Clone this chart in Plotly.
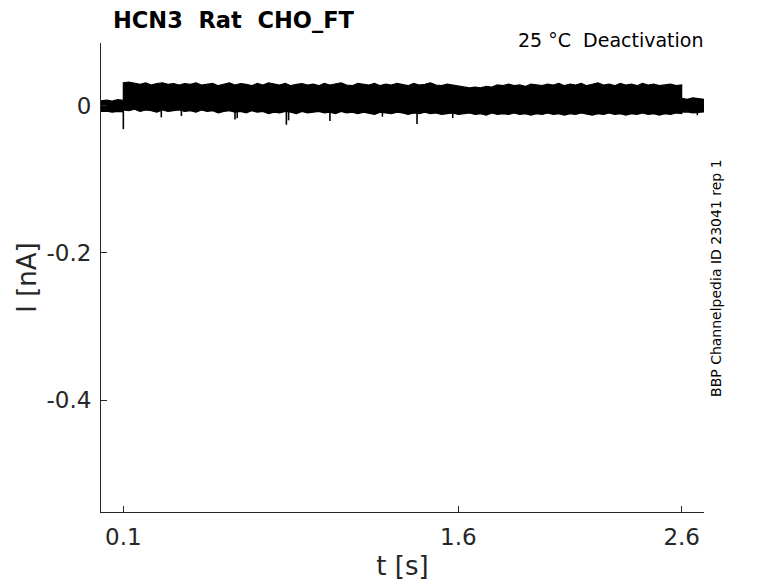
import plotly.graph_objects as go

# envelope of the overlaid sweeps (t in s, I in nA)
pre_t = [0.0, 0.025, 0.05, 0.075, 0.1]
pre_upper = [0.0065, 0.0075, 0.006, 0.008, 0.007]
pre_lower = [-0.008, -0.0075, -0.009, -0.008, -0.0085]

band_t = [round(0.1 + 0.025 * k, 3) for k in range(101)]  # 0.1 .. 2.6 s
band_upper = [
    0.031, 0.032, 0.030, 0.029, 0.031, 0.028, 0.030, 0.031, 0.029, 0.030,
    0.028, 0.030, 0.029, 0.031, 0.028, 0.029, 0.030, 0.027, 0.029, 0.031,
    0.028, 0.030, 0.029, 0.027, 0.030, 0.028, 0.031, 0.029, 0.028, 0.030,
    0.027, 0.029, 0.030, 0.028, 0.029, 0.027, 0.030, 0.028, 0.029, 0.031,
    0.028, 0.027, 0.030, 0.029, 0.028, 0.030, 0.027, 0.029, 0.028, 0.030,
    0.029, 0.027, 0.030, 0.028, 0.029, 0.031, 0.028, 0.027, 0.029, 0.028,
    0.026, 0.025, 0.024, 0.025, 0.024, 0.026, 0.025, 0.028, 0.027, 0.029,
    0.027, 0.028, 0.026, 0.029, 0.028, 0.027, 0.029, 0.028, 0.030, 0.027,
    0.029, 0.028, 0.030, 0.027, 0.029, 0.031, 0.028, 0.029, 0.027, 0.030,
    0.028, 0.029, 0.027, 0.030, 0.028, 0.029, 0.027, 0.028, 0.029, 0.027,
    0.028]
band_lower = [
    -0.006, -0.007, -0.005, -0.008, -0.006, -0.007, -0.009, -0.006, -0.008, -0.007,
    -0.006, -0.008, -0.007, -0.009, -0.006, -0.008, -0.007, -0.010, -0.008, -0.007,
    -0.009, -0.008, -0.010, -0.007, -0.009, -0.008, -0.011, -0.009, -0.010, -0.008,
    -0.009, -0.011, -0.008, -0.010, -0.009, -0.008, -0.010, -0.009, -0.011, -0.008,
    -0.010, -0.009, -0.011, -0.009, -0.010, -0.012, -0.009, -0.010, -0.011, -0.009,
    -0.010, -0.012, -0.010, -0.011, -0.009, -0.011, -0.010, -0.012, -0.011, -0.010,
    -0.012, -0.011, -0.010, -0.012, -0.011, -0.013, -0.010, -0.012, -0.011, -0.012,
    -0.010, -0.012, -0.011, -0.013, -0.011, -0.012, -0.010, -0.012, -0.011, -0.013,
    -0.011, -0.012, -0.010, -0.012, -0.013, -0.011, -0.012, -0.010, -0.012, -0.011,
    -0.013, -0.011, -0.012, -0.010, -0.012, -0.011, -0.013, -0.011, -0.012, -0.010,
    -0.011]

post_t = [2.6, 2.625, 2.65, 2.675, 2.7]
post_upper = [0.010, 0.0085, 0.0105, 0.009, 0.0085]
post_lower = [-0.009, -0.0085, -0.010, -0.009, -0.0085]

# narrow downward transients
spike_t = [0.1, 0.27, 0.36, 0.6, 0.61, 0.83, 0.84, 1.025, 1.26, 1.415, 1.575, 2.67]
spike_i = [-0.032, -0.016, -0.014, -0.019, -0.017, -0.026, -0.020, -0.021, -0.015, -0.025, -0.017, -0.013]

x_ticks = [0.1, 1.6, 2.6]
x_ticktext = ["0.1", "1.6", "2.6"]
y_ticks = [0, -0.2, -0.4]
y_ticktext = ["0", "-0.2", "-0.4"]

axis_col = "#262626"

env_t = pre_t + band_t + post_t
env_up = pre_upper + band_upper + post_upper
env_lo = pre_lower + band_lower + post_lower

fig = go.Figure()
fig.add_trace(go.Scatter(
    x=env_t + env_t[::-1],
    y=env_up + env_lo[::-1],
    mode="lines", fill="toself", fillcolor="black",
    line=dict(color="black", width=1.2),
    hoverinfo="skip",
))
sx, sy = [], []
for t, i in zip(spike_t, spike_i):
    sx += [t, t, None]
    sy += [-0.006, i, None]
fig.add_trace(go.Scatter(x=sx, y=sy, mode="lines",
                         line=dict(color="black", width=1.6), hoverinfo="skip"))

# page is offset by the browser's 8px body margin, so margins are shifted by 8
fig.update_layout(
    width=778, height=583,
    margin=dict(l=93, r=82, t=35, b=79),
    plot_bgcolor="white", paper_bgcolor="white",
    showlegend=False,
    font=dict(family="DejaVu Sans", color=axis_col),
)
fig.update_xaxes(
    range=[0, 2.7], tickvals=x_ticks, ticktext=x_ticktext,
    ticks="inside", ticklen=6, tickcolor=axis_col,
    showline=True, linecolor=axis_col, linewidth=1,
    showgrid=False, zeroline=False,
    tickfont=dict(size=23), ticklabelstandoff=4,
    title=dict(text="t [s]", font=dict(size=26), standoff=8),
)
fig.update_yaxes(
    range=[-0.552, 0.085], tickvals=y_ticks, ticktext=y_ticktext,
    ticks="inside", ticklen=6, tickcolor=axis_col,
    showline=True, linecolor=axis_col, linewidth=1,
    showgrid=False, zeroline=False,
    tickfont=dict(size=23), ticklabelstandoff=4,
    title=dict(text="I [nA]", font=dict(size=26), standoff=2),
)

fig.add_annotation(text="<b>HCN3\u00a0 Rat\u00a0 CHO_FT</b>", xref="paper", yref="paper",
                   x=0.017, y=1.048, xanchor="left", yanchor="middle",
                   showarrow=False, font=dict(size=22.5, color="black"))
fig.add_annotation(text="25 °C\u00a0 Deactivation", xref="paper", yref="paper",
                   x=1.0017, y=1.0064, xanchor="right", yanchor="middle",
                   showarrow=False, font=dict(size=19, color="black"))
fig.add_annotation(text="BBP Channelpedia ID 23041 rep 1", xref="paper", yref="paper",
                   x=1.0199, y=0.499, xanchor="center", yanchor="middle", textangle=-90,
                   showarrow=False, font=dict(size=14, color="black"))

fig.write_html("out.html")
